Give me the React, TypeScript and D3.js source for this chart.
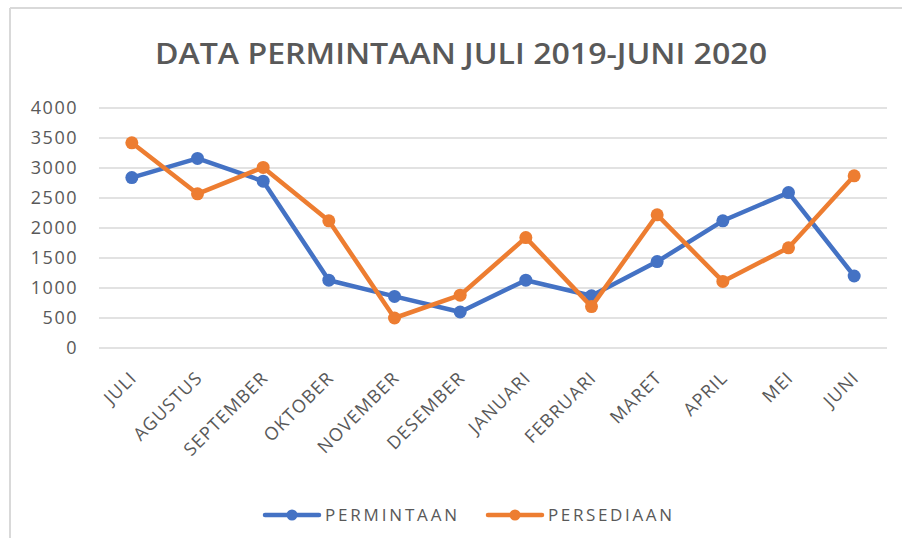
import React from "react";
import * as d3 from "d3";

const months = ["JULI","AGUSTUS","SEPTEMBER","OKTOBER","NOVEMBER","DESEMBER","JANUARI","FEBRUARI","MARET","APRIL","MEI","JUNI"];
const permintaan = [2840, 3160, 2780, 1130, 860, 600, 1130, 870, 1440, 2120, 2590, 1200];
const persediaan = [3420, 2570, 3010, 2120, 500, 880, 1840, 690, 2220, 1110, 1670, 2870];
const yTicks = [0, 500, 1000, 1500, 2000, 2500, 3000, 3500, 4000];
const seriesNames = ["PERMINTAAN", "PERSEDIAAN"];
const colors = ["#4472C4", "#ED7D31"];
const title = "DATA PERMINTAAN JULI 2019-JUNI 2020";

export default function App() {
  const W = 902, H = 538;
  const x = d3.scaleBand<string>().domain(months).range([99, 887]).paddingInner(0).paddingOuter(0);
  const cx = (m: string) => (x(m) as number) + x.bandwidth() / 2;
  const y = d3.scaleLinear().domain([0, 4000]).range([348, 108]);
  const line = d3.line<number>().x((_, i) => cx(months[i])).y((v) => y(v));
  const series = [permintaan, persediaan];
  const font = "'Open Sans', 'DejaVu Sans', sans-serif";
  const legendX = [265, 488];
  const legendTextW = [132, 124];

  return (
    <svg width={W} height={H} style={{ position: "absolute", left: 0, top: 0, background: "#fff" }} fontFamily={font}>
      <rect x={0} y={0} width={W} height={H} fill="#fff" />
      <line x1={10} y1={8} x2={W} y2={8} stroke="#d9d9d9" strokeWidth={2} />
      <line x1={10} y1={8} x2={10} y2={H} stroke="#d9d9d9" strokeWidth={2} />
      <text x={461} y={64} textAnchor="middle" fontSize={28} fontWeight={600} fill="#595959"
        textLength={612} lengthAdjust="spacingAndGlyphs">{title}</text>
      {yTicks.map((t) => (
        <g key={t}>
          <line x1={99} x2={887} y1={y(t)} y2={y(t)} stroke="#d9d9d9" strokeWidth={1.5} />
          <text x={78} y={y(t)} dy="0.35em" textAnchor="end" fontSize={18} letterSpacing={1.5} fill="#595959">{t}</text>
        </g>
      ))}
      {months.map((m) => (
        <text key={m} transform={`translate(${cx(m) + 6},${379}) rotate(-45)`} textAnchor="end"
          fontSize={18} letterSpacing={1.2} fill="#595959">{m}</text>
      ))}
      {series.map((s, si) => (
        <g key={si}>
          <path d={line(s) as string} fill="none" stroke={colors[si]} strokeWidth={4.5} strokeLinejoin="round" />
          {s.map((v, i) => (
            <circle key={i} cx={cx(months[i])} cy={y(v)} r={6.5} fill={colors[si]} />
          ))}
        </g>
      ))}
      {seriesNames.map((n, i) => (
        <g key={n}>
          <line x1={legendX[i]} x2={legendX[i] + 54} y1={515} y2={515} stroke={colors[i]} strokeWidth={4.5} strokeLinecap="round" />
          <circle cx={legendX[i] + 27} cy={515} r={5.5} fill={colors[i]} />
          <text x={legendX[i] + 60} y={515} dy="0.35em" fontSize={17} fill="#595959"
            textLength={legendTextW[i]} lengthAdjust="spacing">{n}</text>
        </g>
      ))}
    </svg>
  );
}
